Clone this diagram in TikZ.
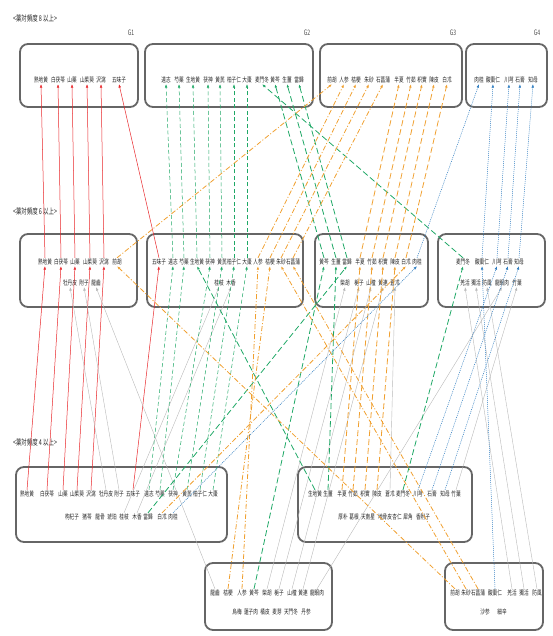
\documentclass[tikz,border=0pt]{standalone}
\usepackage{fontspec}
\newfontfamily\jp[FakeStretch=0.68]{Noto Sans CJK JP}
\usetikzlibrary{arrows.meta}
\definecolor{arrred}{HTML}{E8262A}
\definecolor{arrgreen}{HTML}{1FA866}
\definecolor{arrorange}{HTML}{F0A030}
\definecolor{arrblue}{HTML}{2F7DC0}
\definecolor{arrgray}{HTML}{B8B8B8}
\definecolor{boxgray}{HTML}{666666}

\begin{document}
\begin{tikzpicture}[x=1pt, y=-1pt, every node/.style={font=\jp\fontsize{6.8}{7.5}\selectfont, inner sep=0.8pt, text=black!85},
	grp/.style={draw=boxgray, line width=1.8pt, rounded corners=8pt},
	ttl/.style={anchor=west, font=\jp\fontsize{8}{9}\selectfont},
	glab/.style={font=\jp\fontsize{7.5}{8}\selectfont, text=black!70},
	con/.style={-{Latex[length=3.5pt,width=2.6pt]}, line width=0.5pt},
	rl/.style={con, arrred},
	gl/.style={con, arrgreen, dash pattern=on 4pt off 2.5pt},
	gll/.style={con, arrgreen, line width=0.8pt, dash pattern=on 6pt off 3pt},
	od/.style={con, arrorange, line width=0.8pt, dash pattern=on 5pt off 2pt on 1pt off 2pt},
	ol/.style={con, arrorange, line width=0.8pt, dash pattern=on 6pt off 3pt},
	bl/.style={con, arrblue, dash pattern=on 1pt off 1pt},
	gy/.style={con, arrgray, line width=0.4pt}]
	\useasboundingbox (0,0) rectangle (553,636);

	% titles and group labels
	\node[ttl] (ttl8) at (12,18) {<薬対頻度 8 以上>};
	\node[ttl] (ttl6) at (12,211) {<薬対頻度 6 以上>};
	\node[ttl] (ttl4) at (12,442) {<薬対頻度 4 以上>};
	\node[glab] (g1) at (131,33) {G1};
	\node[glab] (g2) at (307,33) {G2};
	\node[glab] (g3) at (453,33) {G3};
	\node[glab] (g4) at (537,33) {G4};

	% boxes
	\draw[grp] (20,44) rectangle (138,107);
	\draw[grp] (145,44) rectangle (313,107);
	\draw[grp] (320,44) rectangle (462,107);
	\draw[grp] (466,44) rectangle (547,107);
	\draw[grp] (20,234) rectangle (137,307);
	\draw[grp] (147,234) rectangle (303,307);
	\draw[grp] (315,234) rectangle (428,307);
	\draw[grp] (438,234) rectangle (545,307);
	\draw[grp] (16,467) rectangle (227,542);
	\draw[grp] (298,467) rectangle (472,542);
	\draw[grp] (205,563) rectangle (332,630);
	\draw[grp] (445,563) rectangle (543,630);

	% frequency 8
	\foreach \n/\x/\t in {1/41/熟地黄, 2/58/白茯苓, 3/72/山薬, 4/87/山茱萸, 5/101/沢瀉, 6/119/五味子,
		7/166/遠志, 8/179/芍薬, 9/193/生地黄, 10/208/茯神, 11/220/黄芪, 12/234/柏子仁, 13/247/大棗, 14/262/麦門冬, 15/275/黄芩, 16/287/生薑, 17/299/當歸,
		18/332/前胡, 19/344/人参, 20/356/桔梗, 21/369/朱砂, 22/383/石菖蒲, 23/399/半夏, 24/411/竹茹, 25/422/枳實, 26/434/陳皮, 27/447/白朮,
		28/479/肉桂, 29/493/酸棗仁, 30/509/川芎, 31/520/石膏, 32/533/知母}
		\node (t\n) at (\x,80) {\t};

	% frequency 6
	\foreach \n/\x/\t in {1/45/熟地黄, 2/61/白茯苓, 3/75/山薬, 4/90/山茱萸, 5/104/沢瀉, 6/117/前胡,
		10/159/五味子, 11/173/遠志, 12/184/芍薬, 13/197/生地黄, 14/210/茯神, 15/222/黄芪, 16/234/柏子仁, 17/247/大棗, 18/258/人参, 19/270/桔梗, 20/281/朱砂, 21/293/石菖蒲,
		24/324/黄芩, 25/336/生薑, 26/347/當歸, 27/360/半夏, 28/372/竹茹, 29/383/枳實, 30/395/陳皮, 31/406/白朮, 32/417/肉桂,
		38/463/麦門冬, 39/482/酸棗仁, 40/497/川芎, 41/508/石膏, 42/519/知母}
		\node (m\n) at (\x,262) {\t};
	\foreach \n/\x/\t in {7/70/牡丹皮, 8/84/附子, 9/96/龍齒, 22/219/桂枝, 23/231/木香,
		33/345/柴胡, 34/359/梔子, 35/371/山楂, 36/383/黄連, 37/395/蒼朮,
		43/465/羌活, 44/476/獨活, 45/487/防風, 46/502/龍眼肉, 47/517/竹葉}
		\node (m\n) at (\x,283) {\t};

	% frequency 4
	\foreach \n/\x/\t in {1/27/熟地黄, 2/47/白茯苓, 3/63/山薬, 4/77/山茱萸, 5/91/沢瀉, 6/106/牡丹皮, 7/119/附子, 8/133/五味子, 9/149/遠志, 10/160/芍薬, 11/173/茯神, 12/187/黄芪, 13/200/柏子仁, 14/213/大棗,
		24/315/生地黄, 25/328/生薑, 26/342/半夏, 27/353/竹茹, 28/365/枳實, 29/377/陳皮, 30/390/蒼朮, 31/403/麦門冬, 32/418/川芎, 33/432/石膏, 34/445/知母, 35/456/竹葉}
		\node (l\n) at (\x,494) {\t};
	\foreach \n/\x/\t in {15/72/枸杞子, 16/87/猪苓, 17/100/龍骨, 18/112/琥珀, 19/124/桂枝, 20/137/木香, 21/148/當歸, 22/162/白朮, 23/173/肉桂,
		36/343/厚朴, 37/354/葛根, 38/368/天南星, 39/385/地骨皮, 40/397/杏仁, 41/408/犀角, 42/423/香附子}
		\node (l\n) at (\x,517) {\t};
	\foreach \n/\x/\t in {1/215/龍齒, 2/228/桔梗, 3/242/人参, 4/254/黄芩, 5/267/柴胡, 6/279/梔子, 7/292/山楂, 8/303/黄連, 9/317/龍眼肉,
		16/455/前胡, 17/466/朱砂, 18/478/石菖蒲, 19/495/酸棗仁, 20/512/羌活, 21/524/獨活, 22/537/防風}
		\node (k\n) at (\x,593) {\t};
	\foreach \n/\x/\t in {10/237/烏梅, 11/251/蓮子肉, 12/265/橘皮, 13/277/麦芽, 14/291/天門冬, 15/306/丹参, 23/485/沙参, 24/502/細辛}
		\node (k\n) at (\x,612) {\t};

	% 6 -> 8
	\foreach \a/\b in {m1/t1, m2/t2, m3/t3, m4/t4, m5/t5, m10/t6} \draw[rl] (\a.north) -- (\b.south);
	\foreach \a/\b in {m11/t7, m12/t8, m13/t9, m14/t10, m15/t11, m16/t12, m17/t13} \draw[gl] (\a.north) -- (\b.south);
	\foreach \a/\b in {m38/t14, m24/t15, m25/t16, m26/t17} \draw[gll] (\a.north) -- (\b.south);
	\foreach \a/\b in {m6/t18, m18/t19, m19/t20, m20/t21, m21/t22} \draw[od] (\a.north) -- (\b.south);
	\foreach \a/\b in {m27/t23, m28/t24, m29/t25, m30/t26, m31/t27} \draw[ol] (\a.north) -- (\b.south);
	\foreach \a/\b in {m32/t28, m39/t29, m40/t30, m41/t31, m42/t32} \draw[bl] (\a.north) -- (\b.south);

	% 4 -> 6
	\foreach \a/\b in {l1/m1, l2/m2, l3/m3, l4/m4, l5/m5, l8/m10} \draw[rl] (\a.north) -- (\b.south);
	\foreach \a/\b in {l6/m7, l7/m8, k1/m9, l19/m22, l20/m23, k5/m33, k6/m34, k7/m35, k8/m36, l30/m37,
		k20/m43, k21/m44, k22/m45, k9/m46, l35/m47} \draw[gy] (\a.north) -- (\b.south);
	\foreach \a/\b in {l9/m11, l10/m12, l11/m14, l12/m15, l13/m16, l14/m17} \draw[gl] (\a.north) -- (\b.south);
	\foreach \a/\b in {l24/m13, k4/m24, l25/m25, l21/m26, l31/m38} \draw[gll] (\a.north) -- (\b.south);
	\foreach \a/\b in {k16/m6, k3/m18, k2/m19, k17/m20, k18/m21, l22/m31} \draw[od] (\a.north) -- (\b.south);
	\foreach \a/\b in {l26/m27, l27/m28, l28/m29, l29/m30} \draw[ol] (\a.north) -- (\b.south);
	\foreach \a/\b in {l23/m32, k19/m39, l32/m40, l33/m41, l34/m42} \draw[bl] (\a.north) -- (\b.south);
\end{tikzpicture}
\end{document}
